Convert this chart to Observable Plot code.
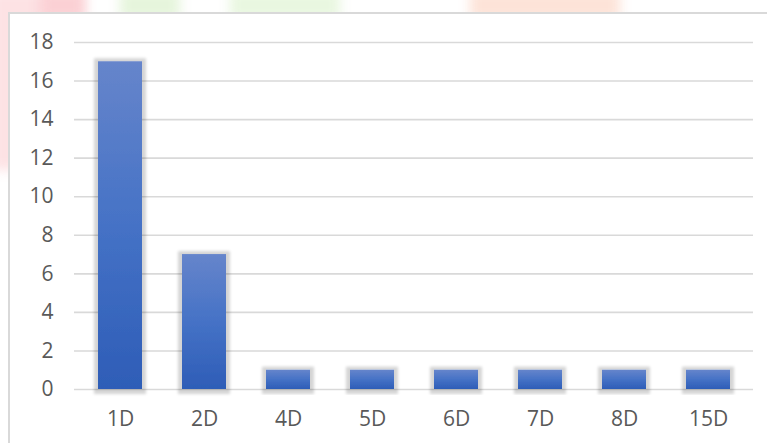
<!DOCTYPE html>
<html>
<head>
<meta charset="utf-8">
<script src="https://cdn.jsdelivr.net/npm/d3@7"></script>
<script src="https://cdn.jsdelivr.net/npm/@observablehq/plot@0.6"></script>
<style>
  html, body { margin: 0; padding: 0; }
  body { width: 767px; height: 443px; position: relative; overflow: hidden; background: #fff; }
  .wash { position: absolute; filter: blur(6px); }
  #box {
    position: absolute; left: 8px; top: 12px; width: 770px; height: 440px;
    background: #fff; border-left: 2px solid #d9d9d9; border-top: 2px solid #d9d9d9;
  }
  #box svg { display: block; }
  #box svg text { font-size: 21px; }
</style>
</head>
<body>
<!-- faint coloured backdrop around the chart panel -->
<div class="wash" style="left:-10px;top:-10px;width:90px;height:180px;background:#fde2e4;"></div>
<div class="wash" style="left:40px;top:-10px;width:45px;height:30px;background:#fbd0d4;"></div>
<div class="wash" style="left:120px;top:-10px;width:60px;height:30px;background:#e6f5dc;"></div>
<div class="wash" style="left:230px;top:-10px;width:110px;height:30px;background:#e9f7e0;"></div>
<div class="wash" style="left:470px;top:-10px;width:150px;height:30px;background:#fde3d8;"></div>
<div id="box"></div>
<script>
// Counts per duration category
const categories = ["1D", "2D", "4D", "5D", "6D", "7D", "8D", "15D"];
const counts = [17, 7, 1, 1, 1, 1, 1, 1];
const yTicks = [0, 2, 4, 6, 8, 10, 12, 14, 16, 18];

const rows = categories.map((c, i) => ({category: c, count: counts[i]}));

const chart = Plot.plot({
  width: 770,
  height: 432,
  marginLeft: 64,
  marginRight: 27,
  marginTop: 28,
  marginBottom: 57,
  style: {fontFamily: "'Open Sans', sans-serif", fontSize: "21px", color: "#595959", background: "transparent"},
  x: {domain: categories, paddingInner: 0.48, paddingOuter: 0.24, label: null, tickSize: 0, tickPadding: 22},
  y: {domain: [0, 18], ticks: yTicks, label: null, tickSize: 0, tickPadding: 21},
  marks: [
    Plot.ruleY(yTicks, {stroke: "#d9d9d9", strokeWidth: 1.6}),
    Plot.barY(rows, {x: "category", y: "count", fill: "url(#barFill)", className: "bars"})
  ]
});

// gradient fill and soft halo for the bars
const svg = d3.select(chart);
const defs = svg.insert("defs", ":first-child");
const grad = defs.append("linearGradient")
  .attr("id", "barFill").attr("x1", 0).attr("y1", 0).attr("x2", 0).attr("y2", 1);
grad.append("stop").attr("offset", "0%").attr("stop-color", "#6685cb");
grad.append("stop").attr("offset", "50%").attr("stop-color", "#4572c6");
grad.append("stop").attr("offset", "100%").attr("stop-color", "#2e5db7");

const f = defs.append("filter").attr("id", "halo")
  .attr("x", "-30%").attr("y", "-30%").attr("width", "160%").attr("height", "160%");
f.append("feMorphology").attr("in", "SourceAlpha").attr("operator", "dilate").attr("radius", 3.5).attr("result", "grow");
f.append("feGaussianBlur").attr("in", "grow").attr("stdDeviation", 1.5).attr("result", "soft");
f.append("feOffset").attr("in", "soft").attr("dy", 1).attr("result", "shift");
f.append("feComponentTransfer").attr("in", "shift").attr("result", "shade")
  .append("feFuncA").attr("type", "linear").attr("slope", 0.17);
const merge = f.append("feMerge");
merge.append("feMergeNode").attr("in", "shade");
merge.append("feMergeNode").attr("in", "SourceGraphic");

svg.selectAll("g.bars rect").attr("filter", "url(#halo)");

document.getElementById("box").appendChild(chart);
</script>
</body>
</html>
